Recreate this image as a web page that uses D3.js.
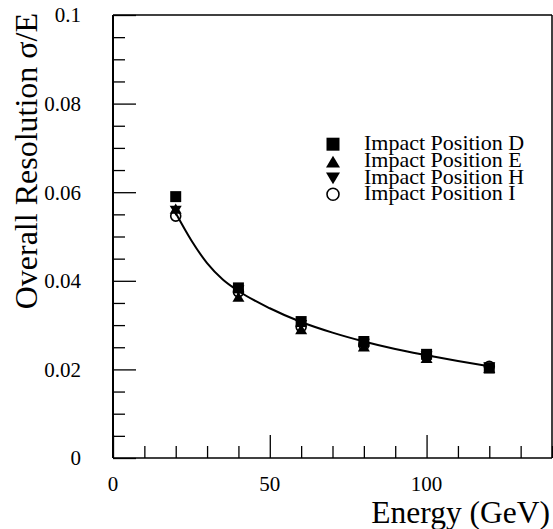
<!DOCTYPE html>
<html>
<head>
<meta charset="utf-8">
<script src="https://cdn.jsdelivr.net/npm/d3@7"></script>
<style>
  body { margin: 0; background: #fff; }
  svg { display: block; }
  text { font-family: "Liberation Serif", "Times New Roman", Times, serif; fill: #000; }
</style>
</head>
<body>
<svg id="chart" width="553" height="529"></svg>
<script>
// Beam energies (GeV) and measured resolution sigma/E for each impact position
const energies = [20, 40, 60, 80, 100, 120];
const resD = [0.0590, 0.0384, 0.0308, 0.0263, 0.0234, 0.0203];
const resE = [0.0563, 0.0364, 0.0291, 0.0252, 0.0226, 0.0203];
const resH = [0.0558, 0.0378, 0.0300, 0.0258, 0.0229, 0.0205];
const resI = [0.0546, 0.0375, 0.0296, 0.0255, 0.0230, 0.0207];

// Fitted resolution curve, sampled along the energy range
const fitEnergy = [20, 25, 30, 35, 40, 50, 60, 70, 80, 90, 100, 110, 120];
const fitRes = [0.0553, 0.0491, 0.0440, 0.0403, 0.0377, 0.0338, 0.0307, 0.0283, 0.0263, 0.0246, 0.0232, 0.0219, 0.0207];

// Axis tick labels
const xTickLabels = [0, 50, 100];
const yTickLabels = [0, 0.02, 0.04, 0.06, 0.08, 0.1];

const seriesNames = ["Impact Position D", "Impact Position E", "Impact Position H", "Impact Position I"];

const svg = d3.select("#chart");
const plotLeft = 113, plotRight = 552, plotTop = 15, plotBottom = 458;

const x = d3.scaleLinear().domain([0, 140]).range([plotLeft, plotRight]);
const y = d3.scaleLinear().domain([0, 0.1]).range([plotBottom, plotTop]);

// Marker shapes (size = full width in px)
const square = { draw(ctx, s) { const h = s / 2; ctx.rect(-h, -h, s, s); } };
const triUp = { draw(ctx, s) { const w = s / 2, h = s * 0.42; ctx.moveTo(0, -h); ctx.lineTo(w, h); ctx.lineTo(-w, h); ctx.closePath(); } };
const triDown = { draw(ctx, s) { const w = s / 2, h = s * 0.42; ctx.moveTo(0, h); ctx.lineTo(w, -h); ctx.lineTo(-w, -h); ctx.closePath(); } };
const circ = { draw(ctx, s) { const r = s / 2; ctx.moveTo(r, 0); ctx.arc(0, 0, r, 0, 2 * Math.PI); } };

const series = [
  { name: seriesNames[0], values: resD, type: square, filled: true },
  { name: seriesNames[1], values: resE, type: triUp, filled: true },
  { name: seriesNames[2], values: resH, type: triDown, filled: true },
  { name: seriesNames[3], values: resI, type: circ, filled: false }
];

// Frame
const frame = svg.append("g").attr("fill", "none").attr("stroke", "#000");
frame.append("line").attr("x1", plotLeft).attr("x2", plotRight).attr("y1", plotTop).attr("y2", plotTop).attr("stroke-width", 1.5);
frame.append("line").attr("x1", plotRight).attr("x2", plotRight).attr("y1", plotTop).attr("y2", plotBottom).attr("stroke-width", 1.5);

// X axis: ticks point into the plot
const xAxis = d3.axisTop(x)
  .tickValues(d3.range(0, 141, 10))
  .tickSize(0)
  .tickFormat("");
const gx = svg.append("g").attr("transform", `translate(0,${plotBottom})`).call(xAxis);
gx.select(".domain").remove();
gx.selectAll(".tick line")
  .attr("stroke", "#000").attr("stroke-width", 1.3)
  .attr("y2", d => (d % 50 === 0 ? -23 : -12));
svg.append("line").attr("x1", plotLeft).attr("x2", plotRight).attr("y1", plotBottom).attr("y2", plotBottom)
  .attr("stroke", "#000").attr("stroke-width", 1.6);
svg.append("g").selectAll("text").data(xTickLabels).join("text")
  .attr("x", d => x(d)).attr("y", 491)
  .attr("text-anchor", "middle").attr("font-size", 21)
  .text(d => d);

// Y axis
const yAxis = d3.axisRight(y)
  .tickValues(d3.range(0, 0.1001, 0.005))
  .tickSize(0)
  .tickFormat("");
const gy = svg.append("g").attr("transform", `translate(${plotLeft},0)`).call(yAxis);
gy.select(".domain").remove();
gy.selectAll(".tick line")
  .attr("stroke", "#000").attr("stroke-width", 1.3)
  .attr("x2", (d, i) => (i % 4 === 0 ? 23 : 12));
svg.append("line").attr("x1", plotLeft).attr("x2", plotLeft).attr("y1", plotTop).attr("y2", plotBottom)
  .attr("stroke", "#000").attr("stroke-width", 2);
svg.append("g").selectAll("text").data(yTickLabels).join("text")
  .attr("x", 81).attr("y", d => y(d)).attr("dy", "0.35em")
  .attr("text-anchor", "end").attr("font-size", 21)
  .text(d => d);

// Axis titles
svg.append("text")
  .attr("x", 550).attr("y", 523)
  .attr("text-anchor", "end").attr("font-size", 31.5)
  .text("Energy (GeV)");
svg.append("text")
  .attr("transform", "translate(37,13) rotate(-90)")
  .attr("text-anchor", "end").attr("font-size", 32)
  .text("Overall Resolution σ/E");

// Fit curve
const line = d3.line().x((d, i) => x(fitEnergy[i])).y(d => y(d)).curve(d3.curveMonotoneX);
svg.append("path").datum(fitRes)
  .attr("d", line)
  .attr("fill", "none").attr("stroke", "#000").attr("stroke-width", 2);

// Data markers
const dataSizes = [11, 12, 12, 10];
series.forEach((s, k) => {
  svg.append("g").selectAll("path").data(s.values).join("path")
    .attr("transform", (d, i) => `translate(${x(energies[i])},${y(d)})`)
    .attr("d", d3.symbol().type(s.type).size(dataSizes[k]))
    .attr("fill", s.filled ? "#000" : "none")
    .attr("stroke", "#000")
    .attr("stroke-width", s.filled ? 0 : 1.6);
});

// Legend
const legendRows = [144.2, 161.7, 178.3, 194.2];
const legendSizes = [13, 14, 14, 12];
const legend = svg.append("g");
series.forEach((s, k) => {
  legend.append("path")
    .attr("transform", `translate(333,${legendRows[k]})`)
    .attr("d", d3.symbol().type(s.type).size(legendSizes[k]))
    .attr("fill", s.filled ? "#000" : "none")
    .attr("stroke", "#000")
    .attr("stroke-width", s.filled ? 0 : 1.6);
  legend.append("text")
    .attr("x", 364).attr("y", legendRows[k] + 5.5)
    .attr("font-size", 22)
    .text(s.name);
});
</script>
</body>
</html>
